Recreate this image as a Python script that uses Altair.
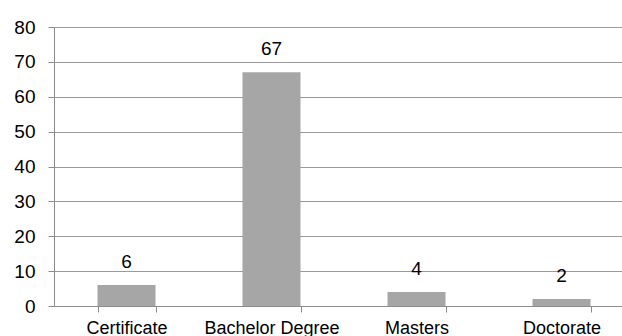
import altair as alt
import pandas as pd

categories = ["Certificate", "Bachelor Degree", "Masters", "Doctorate"]
values = [6, 67, 4, 2]
y_ticks = [0, 10, 20, 30, 40, 50, 60, 70, 80]

df = pd.DataFrame({"cat": categories, "val": values})

x_enc = alt.X("cat:N", sort=categories, title=None,
              scale=alt.Scale(paddingInner=0.6, paddingOuter=0.3, range=[0, 580]),
              axis=alt.Axis(labelAngle=0, labelFontSize=18, labelFont="Liberation Sans",
                            labelColor="#000000", tickSize=6, tickColor="#8c8c8c",
                            domainColor="#8c8c8c", labelPadding=7, tickBand="extent",
                            labelOverlap=False, grid=False))
y_enc = alt.Y("val:Q", title=None,
              scale=alt.Scale(domain=[0, 80], nice=False),
              axis=alt.Axis(values=y_ticks, tickCount=9,
                            labelFontSize=19, labelFont="Liberation Sans",
                            labelColor="#000000", tickSize=6, tickColor="#8c8c8c",
                            domainColor="#8c8c8c", gridColor="#9a9a9a", gridWidth=1,
                            labelPadding=13, labelOverlap=False, grid=True))

base = alt.Chart(df).encode(x=x_enc, y=y_enc)
bars = base.mark_bar(color="#a6a6a6", size=58)
labels = base.mark_text(dy=-17, fontSize=19, font="Liberation Sans",
                        color="#000000", baseline="alphabetic").encode(text="val:Q")

chart = (bars + labels).properties(
    width=568, height=279,
    autosize=alt.AutoSizeParams(type="none"),
    padding={"left": 54, "top": 27, "right": 0, "bottom": 30},
).configure_view(stroke=None).configure(background="#ffffff")

chart.save("out.html", embed_options={"renderer": "svg", "actions": False})
